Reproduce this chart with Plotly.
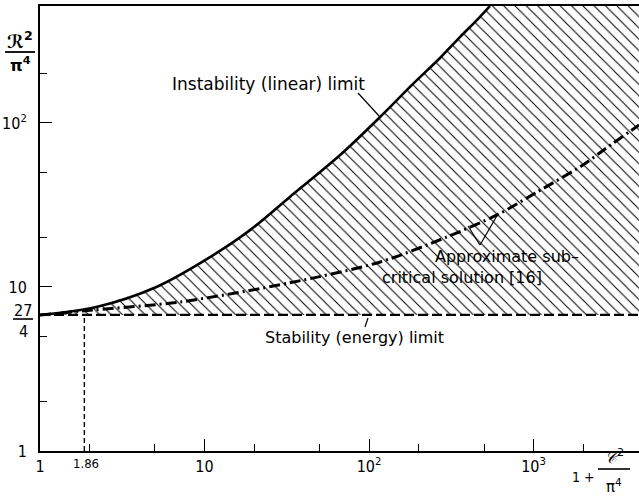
import plotly.graph_objects as go

# ---- data ----
instab_x = [1, 2.2, 5.1, 10.8, 19, 33, 67, 117, 185, 270, 357, 454, 544]
instab_y = [6.75, 7.55, 10.0, 15.2, 22.3, 35.4, 64, 109, 173, 249, 334, 425, 517]

sub_x = [1, 2.1, 7.1, 33, 117, 298, 600, 1050, 2000, 2720, 4380]
sub_y = [6.75, 7.24, 8.1, 10.6, 14.2, 20.2, 27.5, 37.9, 55.5, 69.4, 97.2]

energy_limit = 27 / 4
marker_x = 1.86
y_bottom = 1

X_RANGE = [0, 3.641]   # log10
Y_RANGE = [0, 2.713]   # log10

x_tickvals = [1, 10, 100, 1000]
x_ticktext = ["1", "10", "10<sup>2</sup>", "10<sup>3</sup>"]
x_minor = [2, 5, 20, 50, 200, 500, 2000]
y_tickvals = [1, 10, 100]
y_ticktext = ["1", "10", "10<sup>2</sup>"]
y_minor = [2, 5, 20, 50, 200]

W, H = 639, 497
ML, MR, MT, MB = 40, 0, 6, 46
TICKFONT = "DejaVu Sans Condensed, Liberation Sans Narrow, DejaVu Sans, sans-serif"
FONT = "DejaVu Sans, sans-serif"


def px(x):
    return (x - ML) / (W - ML - MR)


def py(y):
    return (H - MB - y) / (H - MT - MB)


x_right = 10 ** X_RANGE[1]
y_top = 10 ** Y_RANGE[1]

fig = go.Figure()

# hatched region between instability limit and energy limit
fig.add_trace(go.Scatter(
    x=instab_x + [x_right, x_right, 1],
    y=instab_y + [y_top, energy_limit, energy_limit],
    mode="lines", fill="toself", line=dict(width=0, color="rgba(0,0,0,0)"),
    fillcolor="rgba(0,0,0,0)",
    fillpattern=dict(shape="\\", size=8, solidity=0.13, fgcolor="black",
                     bgcolor="rgba(0,0,0,0)", fillmode="replace"),
    hoverinfo="skip", showlegend=False))

# energy (stability) limit
fig.add_trace(go.Scatter(
    x=[1, x_right], y=[energy_limit, energy_limit], mode="lines",
    line=dict(color="black", width=2.2, dash="10px,4px"), showlegend=False))

# vertical marker at 1.86
fig.add_trace(go.Scatter(
    x=[marker_x, marker_x], y=[y_bottom, energy_limit], mode="lines",
    line=dict(color="black", width=1.4, dash="5px,3px"), showlegend=False))

# subcritical approximate solution
fig.add_trace(go.Scatter(
    x=sub_x, y=sub_y, mode="lines",
    line=dict(color="black", width=3, dash="11px,4px,2px,4px",
              shape="spline", smoothing=0.8),
    showlegend=False))

# instability (linear) limit
fig.add_trace(go.Scatter(
    x=instab_x, y=instab_y, mode="lines",
    line=dict(color="black", width=2.6, shape="spline", smoothing=0.9),
    showlegend=False))

ann = []


def text(s, x, y, size=16, xanchor="left", family=FONT):
    ann.append(dict(text=s, x=px(x), y=py(y), xref="paper", yref="paper",
                    xanchor=xanchor, yanchor="middle", showarrow=False,
                    font=dict(family=family, size=size, color="black")))


text("Instability (linear) limit", 170, 84, size=17)
text("Approximate sub–", 433, 256)
text("critical solution [16]", 380, 277)
text("Stability (energy) limit", 263, 337)
text("1.86", 86, 463, size=13, xanchor="center", family=TICKFONT)
text("27", 23, 310, size=16, xanchor="center", family=TICKFONT)
text("4", 23, 331, size=16, xanchor="center", family=TICKFONT)
text("<b>ℛ<sup>2</sup></b>", 20, 40, size=18, xanchor="center")
text("<b>π<sup>4</sup></b>", 20, 64, size=16, xanchor="center")
text("1 +", 583, 477, size=14, xanchor="center", family=TICKFONT)
text("<i>𝒞</i><sup>2</sup>", 614, 457, size=16, xanchor="center")
text("π<sup>4</sup>", 614, 486, size=15, xanchor="center")

shapes = []


def seg(x0, y0, x1, y1, w=1.2):
    shapes.append(dict(type="line", xref="paper", yref="paper",
                       x0=px(x0), y0=py(y0), x1=px(x1), y1=py(y1),
                       line=dict(color="black", width=w)))


seg(13, 319, 33, 319, 1.6)    # 27/4 bar
seg(5, 52, 35, 52, 1.8)       # R^2/pi^4 bar
seg(598, 469, 630, 469, 1.6)  # C^2/pi^4 bar
seg(358, 93, 380, 117)        # instability leader
seg(480, 245, 498, 214)       # subcritical leader
seg(480, 245, 468, 226)
seg(368, 318, 365, 327)       # energy leader

axis_common = dict(type="log", showgrid=False, zeroline=False, showline=True,
                   linecolor="black", linewidth=2, ticks="inside", ticklen=12,
                   tickwidth=1.4, tickcolor="black", automargin=False,
                   tickfont=dict(family=TICKFONT, size=16, color="black"))

fig.update_layout(
    width=W, height=H, margin=dict(l=ML, r=MR, t=MT, b=MB, autoexpand=False),
    paper_bgcolor="white", plot_bgcolor="white",
    xaxis=dict(range=X_RANGE, tickvals=x_tickvals, ticktext=x_ticktext,
               mirror=True,
               minor=dict(tickvals=x_minor, ticks="inside", ticklen=7,
                          tickwidth=1.2, tickcolor="black", showgrid=False),
               **axis_common),
    yaxis=dict(range=Y_RANGE, tickvals=y_tickvals, ticktext=y_ticktext,
               ticklabelstandoff=8,
               minor=dict(tickvals=y_minor, ticks="inside", ticklen=7,
                          tickwidth=1.2, tickcolor="black", showgrid=False),
               **axis_common),
    annotations=ann, shapes=shapes, showlegend=False,
)

fig.write_html("out.html",
               config={"displayModeBar": False},
               post_script="document.body.style.margin='0';"
                           "document.body.style.padding='0';")
